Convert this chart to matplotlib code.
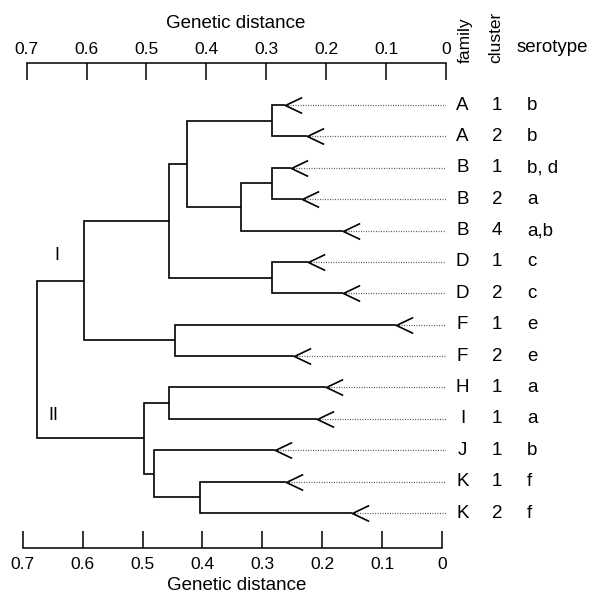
import matplotlib
matplotlib.use("Agg")
import matplotlib.pyplot as plt
from matplotlib.path import Path
import numpy as np

plt.rcParams['font.family'] = ['Liberation Sans', 'DejaVu Sans']

# ---- data ----
families = ['A', 'A', 'B', 'B', 'B', 'D', 'D', 'F', 'F', 'H', 'I', 'J', 'K', 'K']
clusters = ['1', '2', '1', '2', '4', '1', '2', '1', '2', '1', '1', '1', '1', '2']
serotypes = ['b', 'b', 'b, d', 'a', 'a,b', 'c', 'c', 'e', 'e', 'a', 'a', 'b', 'f', 'f']
leaf_dist = [0.268, 0.232, 0.258, 0.240, 0.172, 0.230, 0.172,
             0.084, 0.253, 0.200, 0.215, 0.285, 0.267, 0.157]
# merges: (child_a, child_b, height); leaves 0..13, internal nodes 14..
merges = [
    (0, 1, 0.290),    # 14 A
    (2, 3, 0.290),    # 15 B1,B2
    (15, 4, 0.343),   # 16 B
    (14, 16, 0.433),  # 17 A+B
    (5, 6, 0.290),    # 18 D
    (17, 18, 0.463),  # 19 ABD
    (7, 8, 0.453),    # 20 F
    (19, 20, 0.605),  # 21 cluster I
    (9, 10, 0.463),   # 22 H,I
    (12, 13, 0.410),  # 23 K
    (11, 23, 0.487),  # 24 J,K
    (22, 24, 0.505),  # 25 cluster II
    (21, 25, 0.683),  # 26 root
]
ticks = [0.7, 0.6, 0.5, 0.4, 0.3, 0.2, 0.1, 0.0]
tick_labels = ['0.7', '0.6', '0.5', '0.4', '0.3', '0.2', '0.1', '0']
group_labels = ['I', 'II']
group_pos = [(0.650, 4.80), (0.655, 9.90)]

# ---- figure ----
W, H = 592, 594
fig = plt.figure(figsize=(W / 100, H / 100), dpi=100)
# main axes: dendrogram + top distance axis
ax = fig.add_axes([26.7 / W, (H - 548) / H, 419.3 / W, (548 - 62.7) / H])
ax.set_xlim(0.7, 0)
ax.set_ylim(14.115, -1.348)

n = len(leaf_dist)
xs = list(leaf_dist)
ys = list(range(n))
lw = 1.2
for a, b, h in merges:
    ax.plot([xs[a], h, h, xs[b]], [ys[a], ys[a], ys[b], ys[b]],
            color='black', lw=lw, solid_capstyle='butt', solid_joinstyle='miter')
    xs.append(h)
    ys.append((ys[a] + ys[b]) / 2)

# dotted extensions to zero
for i in range(n):
    ax.plot([leaf_dist[i], 0], [i, i], color='#555555', lw=0.9,
            linestyle=(0, (0.8, 1.2)))

# arrow heads "<"
arrow = Path([(2.1, 1.0), (0, 0), (2.1, -1.0)],
             [Path.MOVETO, Path.LINETO, Path.LINETO])
ax.plot(leaf_dist, range(n), linestyle='none', marker=arrow, ms=24,
        mfc='none', mec='black', mew=1.2)

# group labels
for lab, (gx, gy) in zip(group_labels, group_pos):
    ax.text(gx, gy, lab, ha='center', va='center', fontsize=13)

# leaf labels
fs = 13.5
def fx(px):
    return px / W
for i in range(n):
    yy = ax.transData.transform((0, i))[1]
    yf = fig.transFigure.inverted().transform((0, yy))[1]
    fig.text(fx(462.5), yf, families[i], ha='center', va='center', fontsize=fs)
    fig.text(fx(497), yf, clusters[i], ha='center', va='center', fontsize=fs)
    fig.text(fx(527), yf, serotypes[i], ha='left', va='center', fontsize=fs)

# column headers
fig.text(fx(465), 1 - 63 / H, 'family', rotation=90, ha='center', va='bottom', fontsize=12.5)
fig.text(fx(496), 1 - 63 / H, 'cluster', rotation=90, ha='center', va='bottom', fontsize=12.5)
fig.text(fx(517), 1 - 47 / H, 'serotype', ha='left', va='center', fontsize=13.5)

# main axes styling: only the top spine as the distance axis
for s in ['left', 'right', 'bottom']:
    ax.spines[s].set_visible(False)
ax.spines['top'].set_bounds(0, 0.7)
ax.spines['top'].set_linewidth(1.1)
ax.set_yticks([])
ax.set_xticks(ticks)
ax.set_xticklabels(tick_labels)
ax.tick_params(axis='x', direction='in', length=12, width=1.1, labelsize=12.5, pad=4.3,
               top=True, bottom=False, labeltop=True, labelbottom=False)
ax.xaxis.set_label_position('top')
ax.set_xlabel('Genetic distance', fontsize=13.5, va='baseline')
ax.xaxis.set_label_coords(236 / W, 1 - 28 / H, transform=fig.transFigure)

# bottom distance axis (slightly offset in the reference)
axb = fig.add_axes([22.7 / W, (H - 548) / H, 419.3 / W, 20 / H])
axb.set_xlim(0.7, 0)
axb.patch.set_visible(False)
for s in ['left', 'right', 'top']:
    axb.spines[s].set_visible(False)
axb.spines['bottom'].set_linewidth(1.1)
axb.set_yticks([])
axb.set_xticks(ticks)
axb.set_xticklabels(tick_labels)
axb.tick_params(axis='x', direction='in', length=12, width=1.1, labelsize=12.5, pad=6.2)
axb.set_xlabel('Genetic distance', fontsize=13.5, va='baseline')
axb.xaxis.set_label_coords(237 / W, 1 - 590 / H, transform=fig.transFigure)

fig.savefig('out.png', dpi=100)
